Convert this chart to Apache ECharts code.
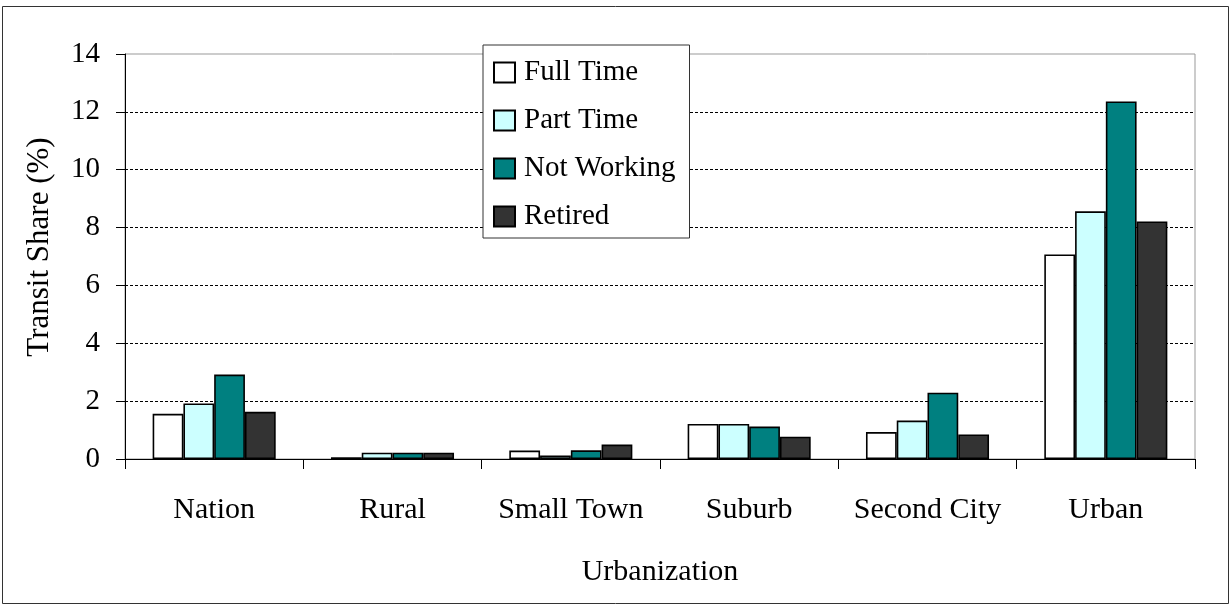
<!DOCTYPE html>
<html>
<head>
<meta charset="utf-8">
<script src="https://cdn.jsdelivr.net/npm/echarts@6/dist/echarts.min.js"></script>
<style>
  html, body { margin: 0; padding: 0; background: #fff; }
  #chart { width: 1231px; height: 605px; }
</style>
</head>
<body>
<div id="chart"></div>
<script>
const categories = ["Nation", "Rural", "Small Town", "Suburb", "Second City", "Urban"];
const fullTime = [1.56, 0.06, 0.29, 1.21, 0.93, 7.07];
const partTime = [1.92, 0.22, 0.12, 1.21, 1.33, 8.56];
const notWorking = [2.92, 0.22, 0.3, 1.12, 2.29, 12.36];
const retired = [1.63, 0.22, 0.5, 0.77, 0.85, 8.21];

const font = "Liberation Serif";

function bar(name, data, color) {
  return {
    name: name,
    type: "bar",
    data: data,
    barGap: "0%",
    barCategoryGap: "31%",
    itemStyle: { color: color, borderColor: "#000", borderWidth: 1.6 },
  };
}

// gridlines dashed except the top one, which is the plot frame
const gridColors = ["#000", "#000", "#000", "#000", "#000", "#000", "#000", "rgba(0,0,0,0)"];

const chart = echarts.init(document.getElementById("chart"));
chart.setOption({
  animation: false,
  backgroundColor: "#fff",
  textStyle: { fontFamily: font, color: "#000" },
  grid: {
    left: 125,
    right: 36,
    top: 54,
    bottom: 146,
    show: true,
    borderColor: "#999",
    borderWidth: 1,
  },
  legend: {
    orient: "vertical",
    left: 483,
    top: 45,
    icon: "rect",
    itemWidth: 21,
    itemHeight: 20,
    itemGap: 19,
    padding: [13, 14, 7, 10],
    backgroundColor: "#fff",
    borderColor: "#333",
    borderWidth: 1,
    borderRadius: 0,
    textStyle: { fontFamily: font, fontSize: 29, color: "#000", padding: [0, 0, 0, 4] },
    data: ["Full Time", "Part Time", "Not Working", "Retired"],
  },
  xAxis: {
    type: "category",
    data: categories,
    name: "Urbanization",
    nameLocation: "middle",
    nameGap: 98,
    nameTextStyle: { fontFamily: font, fontSize: 30, color: "#000" },
    axisLine: { lineStyle: { color: "#000", width: 1 } },
    axisTick: { show: true, interval: 0, length: 10, lineStyle: { color: "#000" } },
    axisLabel: { interval: 0, fontFamily: font, fontSize: 30, color: "#000", margin: 36, lineHeight: 30 },
  },
  yAxis: {
    type: "value",
    min: 0,
    max: 14,
    interval: 2,
    name: "Transit Share (%)",
    nameLocation: "middle",
    nameGap: 70,
    nameRotate: 90,
    nameTextStyle: { fontFamily: font, fontSize: 31, color: "#000", padding: [0, 0, 0, 19] },
    axisLine: { show: true, lineStyle: { color: "#000", width: 1 } },
    axisTick: { show: true, length: 9, lineStyle: { color: "#000" } },
    axisLabel: { fontFamily: font, fontSize: 29, color: "#000", margin: 25 },
    splitLine: { show: true, lineStyle: { color: gridColors, type: [3, 2], width: 1 } },
  },
  series: [
    bar("Full Time", fullTime, "#ffffff"),
    bar("Part Time", partTime, "#ccffff"),
    bar("Not Working", notWorking, "#008080"),
    bar("Retired", retired, "#333333"),
  ],
  graphic: [
    {
      type: "rect",
      shape: { x: 2.5, y: 6.5, width: 1226, height: 597 },
      style: { fill: "none", stroke: "#333", lineWidth: 1 },
      silent: true,
    },
  ],
});
</script>
</body>
</html>
